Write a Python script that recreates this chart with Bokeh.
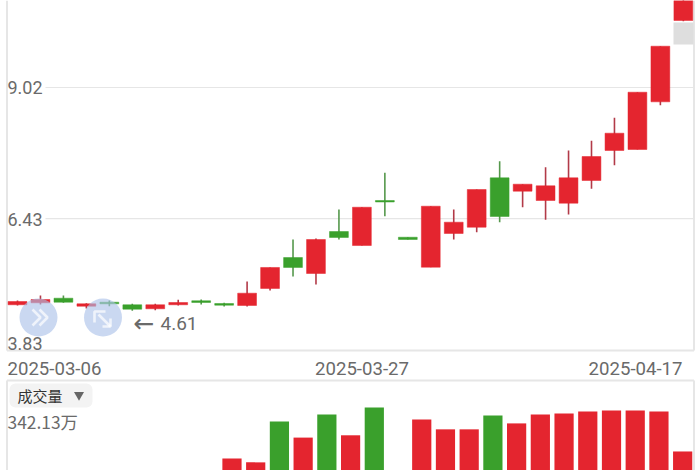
from bokeh.embed import file_html
from bokeh.resources import INLINE
from bokeh.plotting import figure
from bokeh.models import Range1d, ColumnDataSource
from bokeh.core.properties import value

# ---------- data ----------
candle_tops = [4.791,4.830,4.856,4.745,4.777,4.726,4.726,4.771,4.805,4.751,4.955,5.463,5.660,6.016,6.174,6.654,6.787,6.061,6.674,6.358,7.004,7.235,7.109,7.077,7.235,7.656,8.117,8.927,9.836,10.838]
candle_bots = [4.726,4.765,4.777,4.698,4.745,4.639,4.647,4.726,4.771,4.718,4.712,5.048,5.463,5.344,6.056,5.897,6.757,6.016,5.469,6.135,6.259,6.471,6.971,6.787,6.734,7.182,7.775,7.795,8.737,10.344]
candle_highs = [4.811,4.909,4.909,4.757,4.811,4.745,4.745,4.824,4.830,4.765,5.186,5.463,6.016,6.036,6.609,6.654,7.334,6.061,6.674,6.609,7.004,7.564,7.109,7.445,7.775,7.967,8.421,8.927,9.836,10.838]
candle_lows  = [4.712,4.732,4.765,4.652,4.698,4.61,4.62,4.712,4.732,4.692,4.692,5.008,5.285,5.127,6.016,5.897,6.477,6.016,5.469,6.016,6.160,6.358,6.654,6.405,6.510,7.018,7.484,7.795,8.670,10.33]
candle_up    = [1,1,0,1,0,0,1,1,0,0,1,1,0,1,0,1,0,0,1,1,1,0,1,1,1,1,1,1,1,1]

vol_slots  = [9,10,11,12,13,14,15,17,18,19,20,21,22,23,24,25,26,27,28]
vol_values = [188,176,300,251,321,258,342.13,306,276,276,318,294,321,324,330,333,333,330,209]
vol_up     = [1,1,0,1,0,1,0,1,1,1,0,1,1,1,1,1,1,1,1]

price_ticks  = [9.02, 6.43, 3.83]
price_labels = ["9.02", "6.43", "3.83"]
date_labels  = ["2025-03-06", "2025-03-27", "2025-04-17"]

RED, GREEN, GRID, TXT = "#e4252f", "#3aa02c", "#e6e6e6", "#6a6a6a"
RED_WICK, GREEN_WICK = "#b23a48", "#55984c"
FONT = value("Roboto")

# px -> data helpers for the frame (frame covers the whole 700x470 photo)
PX_X0, PX_DX = 17.0, 22.96            # candle 0 centre and spacing
PX_P0, PX_PK = 10.7394, 0.019763      # price at y=0, price per px
def xd(px): return (px - PX_X0) / PX_DX
def yd(py): return PX_P0 - PX_PK * py

p = figure(width=700, height=470, output_backend="svg", toolbar_location=None,
           x_range=Range1d(xd(0), xd(700)), y_range=Range1d(yd(470), yd(0)),
           min_border=0, min_border_left=0, min_border_right=0, min_border_top=0, min_border_bottom=0,
           background_fill_color="white", border_fill_color="white")
p.xaxis.visible = False
p.yaxis.visible = False
p.xgrid.visible = False
p.ygrid.visible = False
p.outline_line_color = None
p.styles = {"position": "absolute", "left": "0", "top": "0"}

# volume scales: own x spacing, own y scale (bars run past the bottom of the photo)
VX0, VDX = 18.0, 23.72
VK = 342.13 / 113
p.extra_x_ranges["vx"] = Range1d((0 - VX0) / VDX, (700 - VX0) / VDX)
p.extra_y_ranges["vy"] = Range1d((520 - 470) * VK, 520 * VK)

# frame lines
LEFT, RIGHT = xd(6.5), xd(693.5)
p.segment(x0=[LEFT, RIGHT], x1=[LEFT, RIGHT], y0=[yd(0)]*2, y1=[yd(350)]*2, line_color=GRID, line_width=2)
p.segment(x0=[LEFT], x1=[RIGHT], y0=[yd(350)], y1=[yd(350)], line_color=GRID, line_width=2)
p.segment(x0=[xd(45)]*2, x1=[RIGHT]*2, y0=price_ticks[:2], y1=price_ticks[:2], line_color="#e6e6e6", line_width=1.2)
p.segment(x0=[LEFT, RIGHT], x1=[LEFT, RIGHT], y0=[yd(380)]*2, y1=[yd(470)]*2, line_color=GRID, line_width=2)
p.segment(x0=[LEFT], x1=[RIGHT], y0=[yd(380)], y1=[yd(380)], line_color=GRID, line_width=2)

# candles
colors = [RED if u else GREEN for u in candle_up]
wicks = [RED_WICK if u else GREEN_WICK for u in candle_up]
idx = list(range(len(candle_tops)))
src = ColumnDataSource(dict(x=idx, top=candle_tops, bot=candle_bots, hi=candle_highs, lo=candle_lows, c=colors, w=wicks))
p.segment(x0="x", x1="x", y0="hi", y1="lo", line_color="w", line_width=1.6, source=src)
p.vbar(x="x", width=0.82, top="top", bottom="bot", fill_color="c", line_color="c", line_width=0.5, source=src)

# grey block under the last candle
p.quad(left=[xd(673)], right=[xd(693)], top=[yd(22)], bottom=[yd(44)], fill_color="#dedede", line_color=None)

# round buttons
p.scatter(x=[xd(38), xd(102.5)], y=[yd(317), yd(317)], size=38, marker="circle",
          fill_color="#a9c0e8", fill_alpha=0.62, line_color=None)
icon_xs = [[32, 40, 32], [39, 47, 39], [94, 94, 105], [98, 110], [110, 110, 102]]
icon_ys = [[309, 317, 325], [309, 317, 325], [322, 311, 311], [314, 326], [318, 326, 326]]
p.multi_line(xs=[[xd(v) for v in a] for a in icon_xs], ys=[[yd(v) for v in a] for a in icon_ys],
             line_color="white", line_alpha=0.7, line_width=2.6)

# volume bars
vcolors = [RED if u else GREEN for u in vol_up]
p.vbar(x=vol_slots, width=0.81, top=vol_values, bottom=0, fill_color=vcolors, line_color=None,
       x_range_name="vx", y_range_name="vy")

# price labels
p.text(x=[xd(7)]*3, y=[yd(87), yd(219), yd(342.5)], text=price_labels, text_color=TXT, text_font=FONT,
       text_font_size="18px", text_align="left", text_baseline="middle")
p.text(x=[xd(133)], y=[yd(323)], text=["←"], text_color=TXT, text_font=value("DejaVu Sans"),
       text_font_size="25px", text_align="left", text_baseline="middle")
p.text(x=[xd(160)], y=[yd(323)], text=["4.61"], text_color=TXT, text_font=FONT,
       text_font_size="19px", text_align="left", text_baseline="middle")

# date labels
for lab, al, px in zip(date_labels, ["left", "center", "right"], [7, 361.5, 682]):
    p.text(x=[xd(px)], y=[yd(368)], text=[lab], text_color=TXT, text_font=FONT,
           text_font_size="18.6px", text_align=al, text_baseline="middle")

# volume selector pill
p.quad(left=[xd(9)], right=[xd(92)], top=[yd(383)], bottom=[yd(407)], fill_color="#f3f3f3", line_color=None,
       border_radius=6)
p.text(x=[xd(17)], y=[yd(395)], text=["成交量"], text_color="#333333", text_font=value("Noto Sans CJK SC"),
       text_font_size="15px", text_align="left", text_baseline="middle")
p.scatter(x=[xd(78.5)], y=[yd(394.5)], marker="inverted_triangle", size=10, fill_color="#666666", line_color=None)
p.text(x=[xd(7)], y=[yd(421)], text=["342.13万"], text_color=TXT, text_font=value("Noto Sans CJK SC"),
       text_font_size="17.4px", text_align="left", text_baseline="middle")

html = file_html(p, INLINE)
open("out.html", "w").write(html)
